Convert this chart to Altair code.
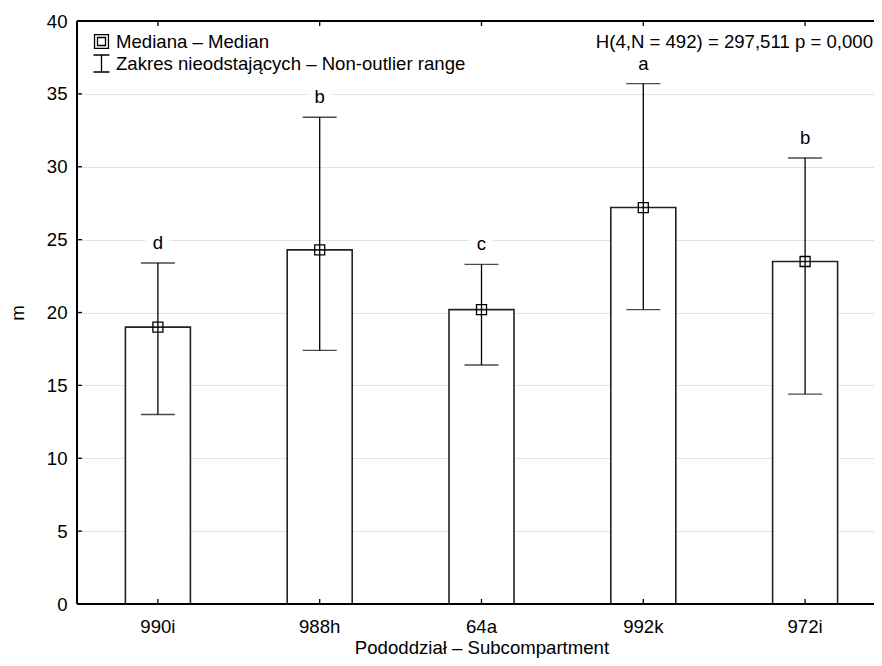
import altair as alt
import pandas as pd

cats = ["990i", "988h", "64a", "992k", "972i"]
median = [19.0, 24.3, 20.2, 27.2, 23.5]
lo = [13.0, 17.4, 16.4, 20.2, 14.4]
hi = [23.4, 33.4, 23.3, 35.7, 30.6]
letters = ["d", "b", "c", "a", "b"]
yticks = [0, 5, 10, 15, 20, 25, 30, 35, 40]
legend_labels = ["Mediana – Median", "Zakres nieodstających – Non-outlier range"]
stat_text = "H(4,N = 492) = 297,511 p = 0,000"

FONT = "Liberation Sans"
FS = 18.6
W, H = 797, 583
XR = 809  # band range extends a little past the visible plot edge

df = pd.DataFrame({"cat": cats, "median": median, "lo": lo, "hi": hi, "letter": letters})
tick_df = pd.DataFrame({"v": yticks})
leg_df = pd.DataFrame({"item": legend_labels})

xs = alt.Scale(domain=cats, paddingInner=0, paddingOuter=0, range=[0, XR])
ys = alt.Scale(domain=[0, 40], nice=False)

X = alt.X("cat:N", scale=xs, sort=cats,
          axis=alt.Axis(title="Pododdział – Subcompartment", labelAngle=0, ticks=False,
                        domain=False, labelPadding=13, labelFontSize=FS, titleFontSize=FS,
                        labelFont=FONT, titleFont=FONT, titleFontWeight="normal",
                        labelColor="black", titleColor="black", titleY=43,
                        titleBaseline="middle"))
Y = alt.Y("median:Q", scale=ys,
          axis=alt.Axis(title="m", values=yticks, ticks=False, domain=False,
                        labelPadding=10, labelFontSize=FS, titleFontSize=FS,
                        labelFont=FONT, titleFont=FONT, titleFontWeight="normal",
                        labelColor="black", titleColor="black",
                        gridColor="#e3e3e3", gridWidth=1.2,
                        titleX=-60, titleY=H / 2, titleBaseline="middle"))

base = alt.Chart(df)
XC = alt.X("cat:N", scale=xs, sort=cats)

bars = base.mark_bar(fill="white", stroke="#222", strokeWidth=1.6, size=65).encode(x=X, y=Y)

whisk = base.mark_rule(color="black", strokeWidth=1.3).encode(
    x=XC, y=alt.Y("lo:Q", scale=ys), y2="hi:Q")

caps = base.transform_fold(["lo", "hi"], as_=["k", "val"]).mark_tick(
    color="black", size=34, thickness=1.4, orient="horizontal").encode(
    x=XC, y=alt.Y("val:Q", scale=ys))

med = base.mark_point(shape="square", filled=False, size=100, color="black",
                      strokeWidth=1.3, opacity=1).encode(
    x=XC, y=alt.Y("median:Q", scale=ys))

letter_bg = base.mark_point(shape="square", filled=True, color="white", size=576,
                            opacity=1, yOffset=-20).encode(
    x=XC, y=alt.Y("hi:Q", scale=ys))

letter_txt = base.mark_text(font=FONT, fontSize=FS, color="black", baseline="alphabetic",
                            dy=-14).encode(
    x=XC, y=alt.Y("hi:Q", scale=ys), text="letter:N")

ytick_marks = alt.Chart(tick_df).mark_rule(color="black", strokeWidth=1.3).encode(
    y=alt.Y("v:Q", scale=ys), x=alt.value(0), x2=alt.value(5))

xtick_bottom = base.mark_rule(color="black", strokeWidth=1.3).encode(
    x=XC, y=alt.value(H), y2=alt.value(H - 5))
xtick_top = base.mark_rule(color="black", strokeWidth=1.3).encode(
    x=XC, y=alt.value(0), y2=alt.value(5))

frame_left = base.mark_rule(color="black", strokeWidth=1.8).encode(
    x=alt.value(0), y=alt.value(0), y2=alt.value(H))
frame_bottom = base.mark_rule(color="black", strokeWidth=2).encode(
    y=alt.value(H), x=alt.value(0), x2=alt.value(W))
frame_top = base.mark_rule(color="black", strokeWidth=1.6).encode(
    y=alt.value(0), x=alt.value(0), x2=alt.value(W))

stat = alt.Chart(pd.DataFrame({"t": [stat_text]})).mark_text(
    font=FONT, fontSize=FS, color="black", align="right", baseline="middle").encode(
    x=alt.value(796), y=alt.value(21), text="t:N")

double_sq = "M-0.82,-0.82H0.82V0.82H-0.82Z M-0.47,-0.47H0.47V0.47H-0.47Z"
ibeam = "M-0.94,-1H0.94 M0,-1V1 M-0.94,1H0.94"

legend_layer = alt.Chart(leg_df).mark_point(opacity=0, filled=False).encode(
    x=alt.value(-1000), y=alt.value(-1000),
    shape=alt.Shape("item:N", scale=alt.Scale(domain=legend_labels, range=[double_sq, ibeam]),
                    legend=alt.Legend(title=None, orient="none", legendX=15, legendY=11,
                                      symbolSize=289, symbolStrokeColor="black",
                                      symbolFillColor="transparent", symbolStrokeWidth=1.3,
                                      symbolOpacity=1, labelFont=FONT, labelFontSize=FS,
                                      labelColor="black", labelOffset=5, rowPadding=0,
                                      labelLimit=600, padding=0)))

chart = alt.layer(
    bars, whisk, caps, med, letter_bg, letter_txt,
    ytick_marks, xtick_bottom, xtick_top, frame_left, frame_bottom, frame_top,
    stat, legend_layer
).properties(
    width=W, height=H,
    autosize=alt.AutoSizeParams(type="none"),
    padding={"left": 69, "top": 13, "right": 0, "bottom": 54},
).configure_view(stroke=None).configure(background="white")

chart.save("out.html", embed_options={"renderer": "svg", "actions": False})
